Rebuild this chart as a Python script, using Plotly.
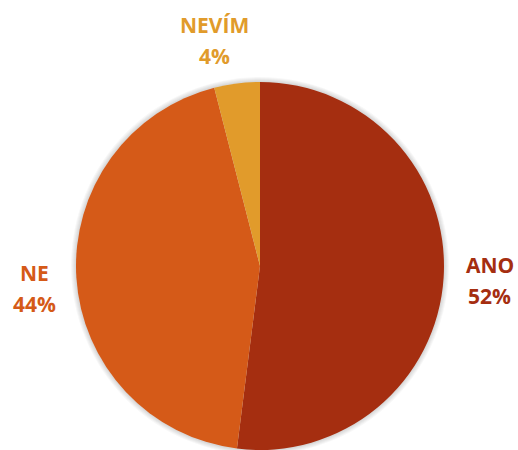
import math
import plotly.graph_objects as go

# Survey answers and their shares (percent)
labels = ["ANO", "NE", "NEVÍM"]
values = [52, 44, 4]
colors = ["#A52E10", "#D55A18", "#E19B2B"]

W, H = 518, 450
cx, cy, r = 260, 184, 184  # pie centre (px from left / bottom) and radius

fig = go.Figure(go.Pie(
    labels=labels,
    values=values,
    sort=False,
    direction="clockwise",
    rotation=0,
    textinfo="none",
    hoverinfo="label+percent",
    marker=dict(colors=colors, line=dict(color="rgba(0,0,0,0)", width=0)),
    domain=dict(x=[(cx - r) / W, (cx + r) / W], y=[(cy - r) / H, (cy + r) / H]),
    showlegend=False,
))

# soft drop shadow: faint grey discs just larger than the pie, drawn beneath it
shapes = []
for k in (5, 4, 3, 2, 1):
    rr = r + k
    shapes.append(dict(
        type="circle", xref="paper", yref="paper", layer="below",
        x0=(cx - rr) / W, x1=(cx + rr) / W, y0=(cy - rr) / H, y1=(cy + rr) / H,
        fillcolor="rgba(0,0,0,0.03)", line=dict(width=0),
    ))

# Outside labels placed around each slice's mid-angle, with small nudges
nudges = {"ANO": (2, 0), "NE": (2, 8), "NEVÍM": (-17, 1)}
total = sum(values)
acc = 0
label_r = 228
annotations = []
for lab, val, col in zip(labels, values, colors):
    mid = (acc + val / 2) / total * 2 * math.pi
    acc += val
    dx, dy = nudges[lab]
    x = (cx + label_r * math.sin(mid) + dx) / W
    y = (cy + label_r * math.cos(mid) - dy) / H
    pct = f"{round(val / total * 100)}%"
    for txt, shift in ((lab, 15.5), (pct, -15.5)):
        annotations.append(dict(
            x=x, y=y, xref="paper", yref="paper", text=f"<b>{txt}</b>",
            showarrow=False, xanchor="center", yanchor="middle", yshift=shift,
            font=dict(family="Open Sans", size=21, color=col),
        ))

fig.update_layout(
    width=W, height=H,
    margin=dict(l=0, r=0, t=0, b=0),
    paper_bgcolor="white", plot_bgcolor="white",
    shapes=shapes,
    annotations=annotations,
)

fig.write_html("out.html")
